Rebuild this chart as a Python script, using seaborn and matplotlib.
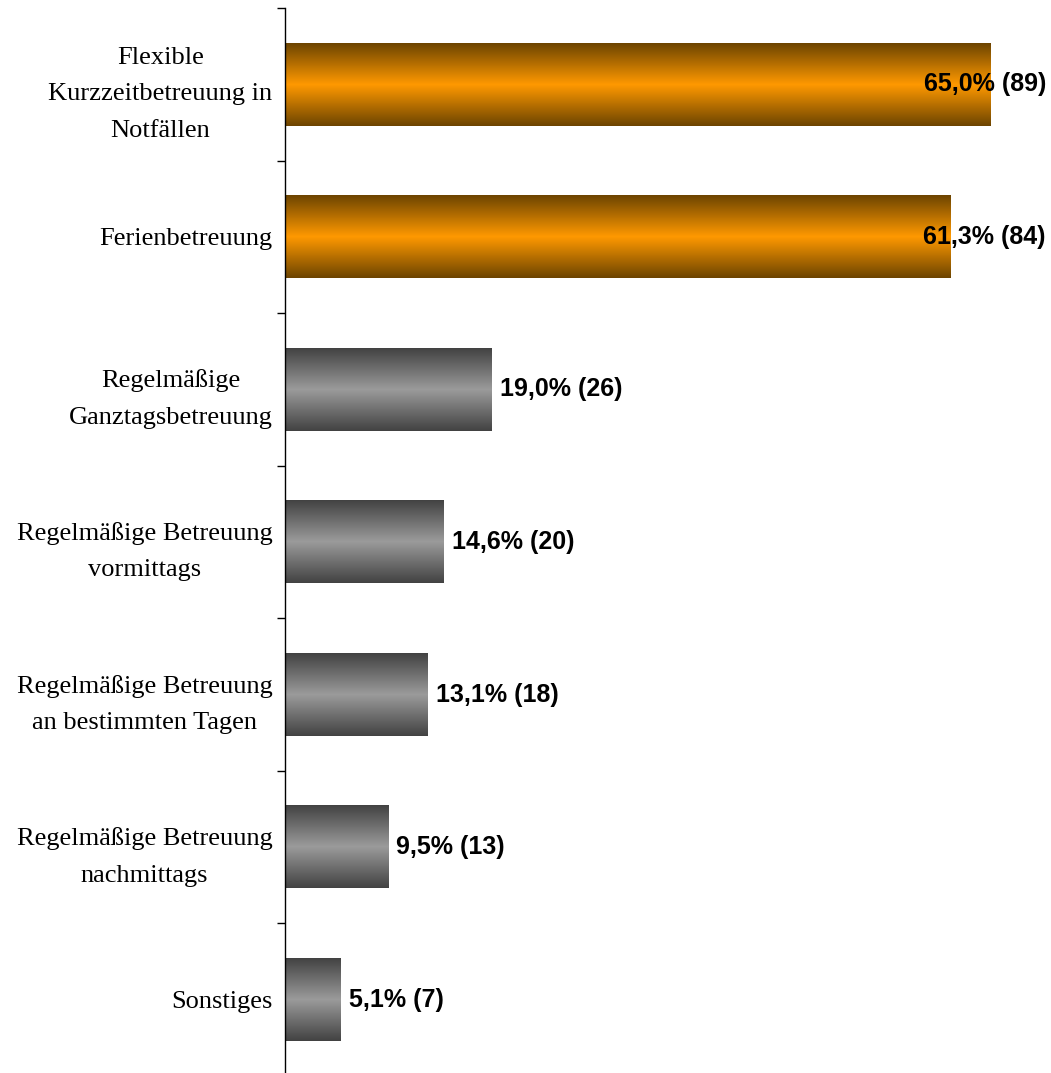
import numpy as np
import pandas as pd
import matplotlib
matplotlib.use("Agg")
import matplotlib.pyplot as plt
import seaborn as sns

categories = [
    "Flexible\nKurzzeitbetreuung in\nNotfällen",
    "Ferienbetreuung",
    "Regelmäßige\nGanztagsbetreuung",
    "Regelmäßige Betreuung\nvormittags",
    "Regelmäßige Betreuung\nan bestimmten Tagen",
    "Regelmäßige Betreuung\nnachmittags",
    "Sonstiges",
]
percent = [65.0, 61.3, 19.0, 14.6, 13.1, 9.5, 5.1]
counts = [89, 84, 26, 20, 18, 13, 7]
highlight = [True, True, False, False, False, False, False]

df = pd.DataFrame({"cat": categories, "pct": percent, "n": counts})

sns.set_style("white")

# gradient colours (edge -> centre)
orange_edge = np.array([108, 68, 0]) / 255
orange_mid = np.array([255, 153, 0]) / 255
grey_edge = np.array([66, 66, 66]) / 255
grey_mid = np.array([155, 155, 155]) / 255

fig = plt.figure(figsize=(10.51, 10.73), dpi=100)
ax = fig.add_axes([0.2712, -0.0028, 0.724, 0.9953])

palette = ["#FF9900" if h else "#999999" for h in highlight]
sns.barplot(data=df, y="cat", x="pct", hue="cat", palette=palette,
            legend=False, width=0.54, orient="h", ax=ax, saturation=1)

xmax = 70.1

# gradient fill over every bar
t = np.linspace(0, 1, 401)
prof = 1 - np.abs(2 * t - 1)
for patch, h in zip(ax.patches, highlight):
    edge, mid = (orange_edge, orange_mid) if h else (grey_edge, grey_mid)
    img = edge[None, :] + (mid - edge)[None, :] * prof[:, None]
    img = img[:, None, :]
    x0, y0 = patch.get_x(), patch.get_y()
    w, hgt = patch.get_width(), patch.get_height()
    ax.imshow(img, extent=[x0, x0 + w, y0 + hgt, y0], aspect="auto",
              zorder=patch.get_zorder() + 0.1, interpolation="bilinear")
ax.set_xlim(0, xmax)
ax.set_ylim(len(categories) - 0.5, -0.5)

# value labels
for i, (p, n) in enumerate(zip(percent, counts)):
    txt = f"{p:.1f}".replace(".", ",") + f"% ({n})"
    if p + 13 > xmax:
        ax.text(1.0, i, txt, transform=ax.get_yaxis_transform(), ha="right",
                va="center", fontsize=18, fontweight="bold", color="black",
                family="Liberation Sans", zorder=5)
    else:
        ax.annotate(txt, (p, i), xytext=(6, 0), textcoords="offset points",
                    ha="left", va="center", fontsize=18, fontweight="bold",
                    color="black", family="Liberation Sans", zorder=5)

for s in ["top", "right", "bottom"]:
    ax.spines[s].set_visible(False)
ax.spines["left"].set_color("black")
ax.spines["left"].set_linewidth(1.0)

ax.set_xticks([])
ax.set_xlabel("")
ax.set_ylabel("")
ax.set_yticks(range(len(categories)))
ax.set_yticklabels(categories)
ax.set_yticks(np.arange(-0.5, len(categories), 1.0), minor=True)
ax.tick_params(axis="y", which="major", length=0, pad=9, labelcolor="black")
ax.tick_params(axis="y", which="minor", length=6, direction="out",
               width=1, color="black", left=True)
for lab in ax.get_yticklabels():
    lab.set_fontfamily("Liberation Serif")
    lab.set_fontsize(19)
    lab.set_color("black")
    lab.set_multialignment("center")
    lab.set_linespacing(1.85)

fig.savefig("out.png", dpi=100)
